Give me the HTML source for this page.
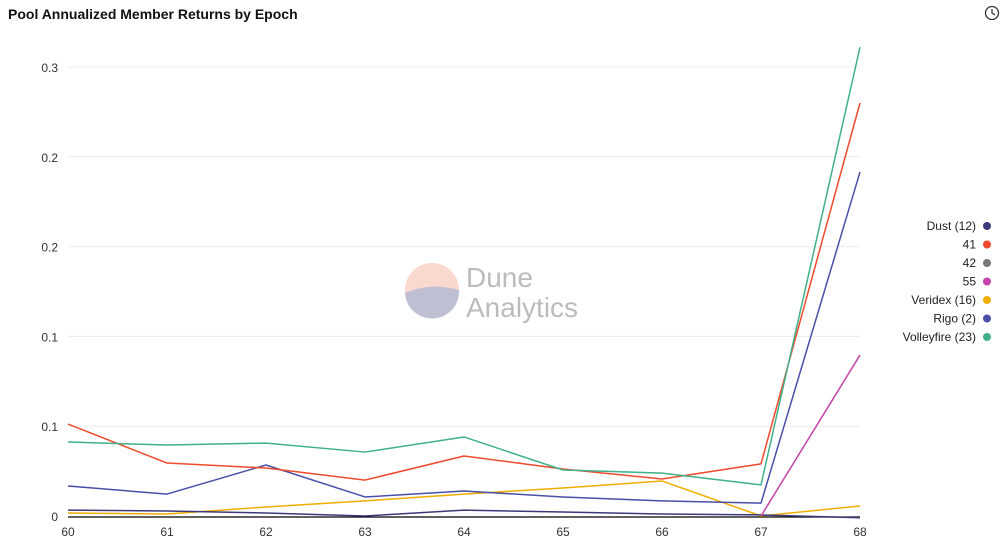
<!DOCTYPE html>
<html><head><meta charset="utf-8"><style>
body{margin:0;background:#fff;font-family:"Liberation Sans",sans-serif;}
#wrap{position:relative;width:1006px;height:556px;overflow:hidden;}
</style></head><body>
<div id="wrap">
<svg id="chart" width="1006" height="556"></svg>
</div>
<script>
const epochs=[60,61,62,63,64,65,66,67,68];
const yTickValues=[0,0.05,0.1,0.15,0.2,0.25];
const yTickLabels=["0","0.1","0.1","0.2","0.2","0.3"];
const seriesNames=["Dust (12)","41","42","55","Veridex (16)","Rigo (2)","Volleyfire (23)"];
const seriesColors=["#3b3a7a","#f04a2d","#777777","#c343a8","#f0ad00","#4a4fa8","#3fb08a"];
const dustValues=[0.0033,0.0028,0.0017,0,0.0033,0.0022,0.0011,0.0006,-0.001];
const v41Values=[0.0512,0.0295,0.0267,0.02,0.0334,0.0262,0.0206,0.029,0.23];
const v42Values=[null,null,null,null,null,null,null,null,null];
const v55Values=[null,null,null,null,null,null,null,0,0.0896];
const veridexValues=[0.0017,0.0011,0.005,0.0084,0.0122,0.0156,0.0195,0,0.0056];
const rigoValues=[0.0167,0.0122,0.0284,0.0106,0.0139,0.0106,0.0084,0.0072,0.1915];
const volleyfireValues=[0.0412,0.0395,0.0406,0.0356,0.044,0.0256,0.0239,0.0173,0.261];
const allSeries=[dustValues,v41Values,v42Values,v55Values,veridexValues,rigoValues,volleyfireValues];

const NS="http://www.w3.org/2000/svg";
const svg=document.getElementById('chart');
const X0=68,X1=860,Y0=516,PXU=1796;
const xScale=e=>X0+(e-epochs[0])*(X1-X0)/(epochs[epochs.length-1]-epochs[0]);
const yScale=v=>Y0-v*PXU;
function mk(tag,attrs,parent){const el=document.createElementNS(NS,tag);for(const k in attrs)el.setAttribute(k,attrs[k]);(parent||svg).appendChild(el);return el;}

let t=mk('text',{x:8,y:19,'font-size':14,'font-weight':'bold',fill:'#111'});t.textContent="Pool Annualized Member Returns by Epoch";


let clk=mk('g',{});


mk('circle',{cx:992,cy:13,r:6.5,fill:'none',stroke:'#333','stroke-width':1.3},clk);
mk('path',{d:'M992 9 V13 L995 15',fill:'none',stroke:'#333','stroke-width':1.3},clk);

let wm=mk('g',{opacity:0.3});


mk('circle',{cx:432,cy:290,r:27,fill:'#f4825f'},wm);
mk('path',{d:'M405 293 A27 27 0 0 0 459 290 Q430 282 405 293 Z',fill:'#2c2e6e'},wm);
let w1=mk('text',{x:466,y:287,'font-size':28,fill:'#222'},wm);w1.textContent="Dune";
let w2=mk('text',{x:466,y:317,'font-size':28,fill:'#222'},wm);w2.textContent="Analytics";

yTickValues.forEach((v,i)=>{
  if(i>0){const g=mk('line',{x1:X0,x2:X1,y1:yScale(v),y2:yScale(v),stroke:'#ececec','stroke-width':1});
  
  }
  const l=mk('text',{x:58,y:yScale(v)+5,'font-size':12,fill:'#333','text-anchor':'end'});l.textContent=yTickLabels[i];
  
  
});
const ax=mk('line',{x1:X0,x2:X1,y1:Y0+1,y2:Y0+1,stroke:'#000','stroke-width':1.2});


epochs.forEach(e=>{
  const l=mk('text',{x:xScale(e),y:536,'font-size':12,fill:'#333','text-anchor':'middle'});l.textContent=e;
  
  
});
[4,0,5,3,1,6,2].forEach(si=>{
  const vals=allSeries[si];let d='';let pen=false;
  vals.forEach((v,i)=>{if(v===null){pen=false;return;}d+=(pen?'L':'M')+xScale(epochs[i])+' '+yScale(v)+' ';pen=true;});
  if(!d)return;
  const p=mk('path',{d:d,fill:'none',stroke:seriesColors[si],'stroke-width':1.5,'stroke-linejoin':'round'});
  
  
});
seriesNames.forEach((n,i)=>{
  const y=226+i*18.5;
  const g=mk('g',{});
  
  
  const tx=mk('text',{x:976,y:y+4,'font-size':12,fill:'#222','text-anchor':'end'},g);tx.textContent=n;
  mk('circle',{cx:987,cy:y,r:4,fill:seriesColors[i]},g);
});
</script>
</body></html>
